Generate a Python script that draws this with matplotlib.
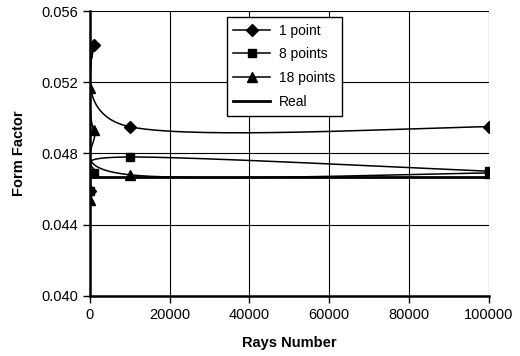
import numpy as np
import matplotlib.pyplot as plt

plt.rcParams['font.family'] = ['Liberation Sans', 'DejaVu Sans']

# data
rays_1 = [100, 1000, 10000, 100000]
ff_1 = [0.0459, 0.0541, 0.0495, 0.0495]
rays_8 = [100, 1000, 10000, 100000]
ff_8 = [0.0459, 0.0469, 0.0478, 0.0470]
rays_18 = [10, 100, 1000, 10000, 100000]
ff_18 = [0.0454, 0.0517, 0.0493, 0.0468, 0.0469]
rays_real = [10, 100000]
ff_real = [0.0467, 0.0467]


def smooth(xs, ys, n=60):
    # Excel-like smoothed line (Catmull-Rom as cubic Bezier)
    p = np.column_stack([xs, ys]).astype(float)
    out = [p[0]]
    t = np.linspace(0, 1, n)[1:, None]
    for i in range(len(p) - 1):
        p0 = p[i - 1] if i > 0 else p[i]
        p3 = p[i + 2] if i + 2 < len(p) else p[i + 1]
        c1 = p[i] + (p[i + 1] - p0) / 6
        c2 = p[i + 1] - (p3 - p[i]) / 6
        seg = ((1 - t) ** 3 * p[i] + 3 * (1 - t) ** 2 * t * c1
               + 3 * (1 - t) * t ** 2 * c2 + t ** 3 * p[i + 1])
        out.extend(seg)
    out = np.array(out)
    return out[:, 0], out[:, 1]


fig = plt.figure(figsize=(5.2, 3.56), dpi=100)
ax = fig.add_axes([0.173, 0.169, 0.767, 0.8])

series = [(rays_1, ff_1, 'D', 6, '1 point'),
          (rays_8, ff_8, 's', 5.5, '8 points'),
          (rays_18, ff_18, '^', 7, '18 points')]
for xs, ys, m, ms, lab in series:
    sx, sy = smooth(xs, ys)
    ax.plot(sx, sy, color='black', lw=1.1, zorder=3)
    ax.plot(xs, ys, ls='none', marker=m, ms=ms, color='black', zorder=4)
    ax.plot([], [], color='black', lw=1.1, marker=m, ms=ms, label=lab)
ax.plot(rays_real, ff_real, color='black', lw=2, label='Real', zorder=3)

ax.set_xlim(0, 100000)
ax.set_ylim(0.040, 0.056)
ax.set_xticks(np.arange(0, 100001, 20000))
ax.set_yticks(np.arange(0.040, 0.0561, 0.004))
ax.set_yticklabels([f'{v:.3f}' for v in np.arange(0.040, 0.0561, 0.004)])
ax.grid(True, color='black', lw=0.8)
ax.set_axisbelow(True)
for s in ['top', 'right']:
    ax.spines[s].set_visible(False)
for s in ['left', 'bottom']:
    ax.spines[s].set_linewidth(1.8)
ax.tick_params(direction='out', length=5, width=1, labelsize=10.5)
ax.set_xlabel('Rays Number', fontsize=10.5, fontweight='bold', labelpad=10)
ax.set_ylabel('Form Factor', fontsize=10.5, fontweight='bold', labelpad=11)

leg = ax.legend(loc='upper left', bbox_to_anchor=(0.325, 1.005), fontsize=10,
                frameon=True, fancybox=False, edgecolor='black',
                handlelength=2.6, borderpad=0.5, labelspacing=0.7,
                handletextpad=0.7)
leg.get_frame().set_linewidth(1)
leg.get_frame().set_alpha(1)

fig.savefig('out.png', dpi=100)
